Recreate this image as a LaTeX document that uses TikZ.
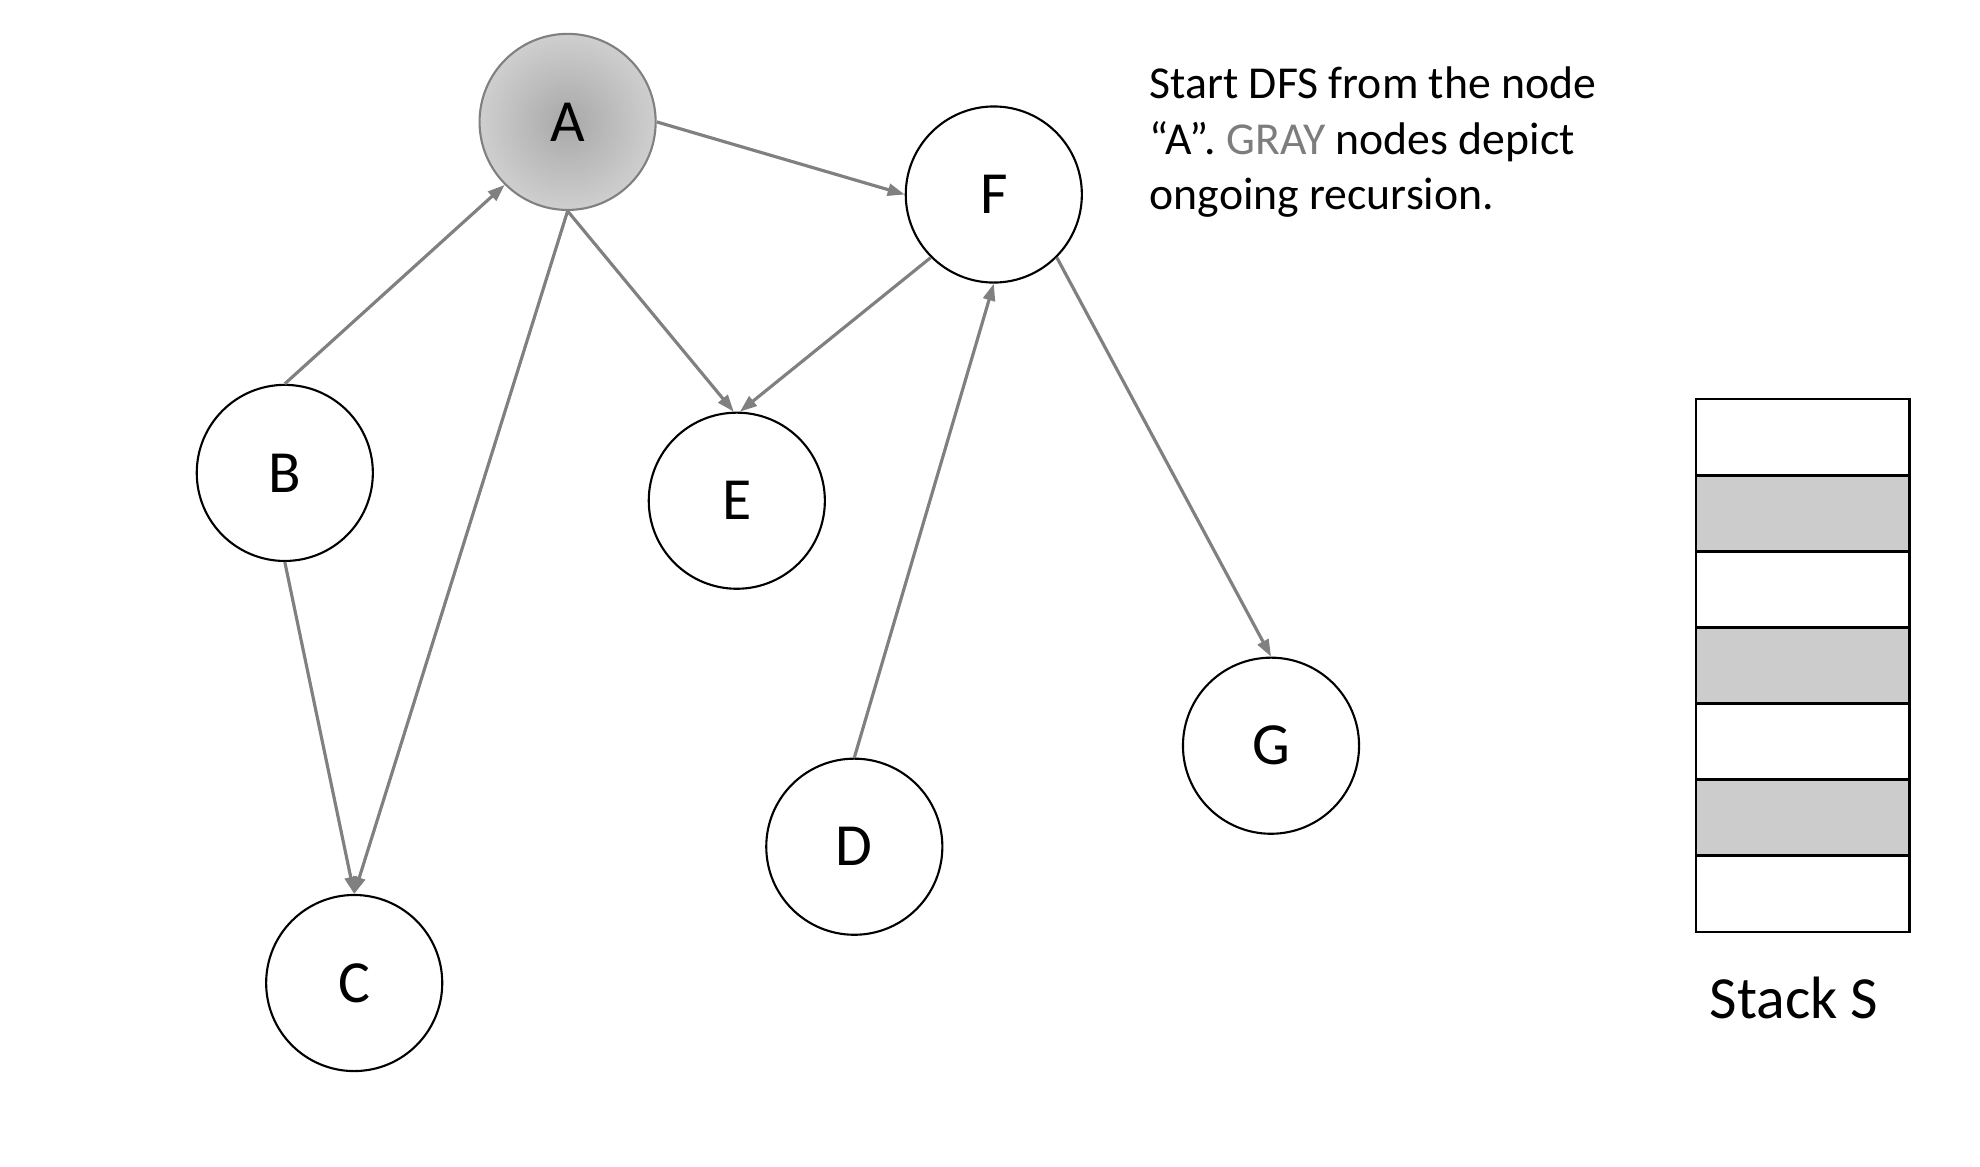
\documentclass[tikz,border=0pt]{standalone}
\usepackage{fontspec}
\setmainfont{Carlito}
\usetikzlibrary{arrows.meta}
\definecolor{edgegray}{RGB}{128,128,128}
\definecolor{stackgray}{RGB}{204,204,204}
\definecolor{txtgray}{RGB}{125,125,125}
\begin{document}
\begin{tikzpicture}[x=0.01cm,y=-0.01cm,
  vertex/.style={circle,draw=black,line width=0.6pt,minimum size=1.76cm,inner sep=0pt,font=\fontsize{17}{20}\selectfont},
  active/.style={vertex,draw=edgegray,shading=radial,inner color=gray!68,outer color=gray!38},
  edge/.style={draw=edgegray,line width=0.9pt,-{Triangle[length=0.17cm,width=0.12cm]}},
  cell/.style={draw=black,line width=0.8pt,minimum width=2.13cm,minimum height=0.7614cm,inner sep=0pt,outer sep=0pt},
  filledcell/.style={cell,fill=stackgray},
  note/.style={anchor=base west,align=left,inner sep=0pt,font=\fontsize{13}{15.8}\selectfont},
  caption/.style={anchor=base,inner sep=0pt,font=\fontsize{17}{20}\selectfont}]
\useasboundingbox (0,0) rectangle (1980,1166);
% vertices
\node[active] (A) at (567.6,121.9) {A};
\node[vertex] (F) at (993.8,194.5) {F};
\node[vertex] (B) at (284.8,472.9) {B};
\node[vertex] (E) at (736.8,500.7) {E};
\node[vertex] (G) at (1271,745.7) {G};
\node[vertex] (D) at (854.3,846.7) {D};
\node[vertex] (C) at (354.2,983) {C};
% edges
\draw[edge] (A.east) -- (F.west);
\draw[edge] (B.north) -- (A.225);
\draw[edge] (A.south) -- (C.north);
\draw[edge] (A.south) -- (E.92);
\draw[edge] (F.-135) -- (E.88);
\draw[edge] (D.north) -- (F.south);
\draw[edge] (F.-45) -- (G.north);
\draw[edge] (B.south) -- (C.north);
% note
\node[note] (txt) at (1149,209.6) {Start DFS from the node\\“A”. \textcolor{txtgray}{GRAY} nodes depict\\ongoing recursion.};
% stack
\foreach \i in {1,...,7}{
  \pgfmathsetmacro{\yy}{399+76.14*(\i-0.5)}
  \ifodd\i
    \node[cell] (s\i) at (1802.5,\yy) {};
  \else
    \node[filledcell] (s\i) at (1802.5,\yy) {};
  \fi
}
\node[caption] (lbl) at (1794,1018) {Stack S};
\end{tikzpicture}
\end{document}
